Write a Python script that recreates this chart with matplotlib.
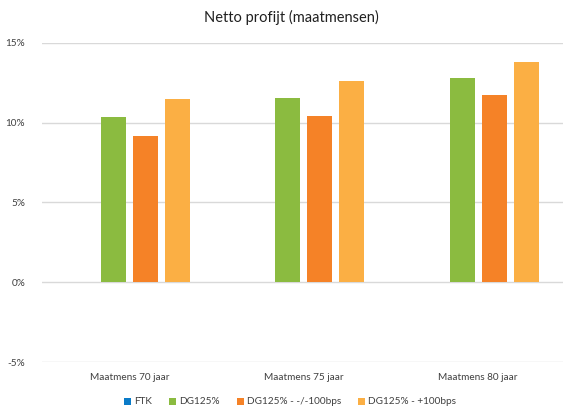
import numpy as np
import matplotlib.pyplot as plt

plt.rcParams['font.family'] = ['Lato', 'DejaVu Sans']

# Data (percent)
categories = ["Maatmens 70 jaar", "Maatmens 75 jaar", "Maatmens 80 jaar"]
series_names = ["FTK", "DG125%", "DG125% - -/-100bps", "DG125% - +100bps"]
ftk = [0.0, 0.0, 0.0]
dg125 = [10.35, 11.56, 12.77]
dg125_min100 = [9.16, 10.44, 11.75]
dg125_plus100 = [11.48, 12.63, 13.77]
y_ticks = [-5, 0, 5, 10, 15]

colors = ["#0A7BC8", "#8BBB40", "#F58227", "#FBAF44"]
values = [ftk, dg125, dg125_min100, dg125_plus100]

W, H = 563, 412
fig = plt.figure(figsize=(W / 100, H / 100), dpi=100)
ax = fig.add_axes([42 / W, 1 - 362.3 / H, 523.5 / W, (362.3 - 42.7) / H])

x = np.arange(len(categories))
step = 0.183
width = 0.143
for i, (name, vals, col) in enumerate(zip(series_names, values, colors)):
    ax.bar(x + (i - 1.5) * step, vals, width=width, color=col, label=name,
           linewidth=0, zorder=3)

ax.set_xlim(-0.5, 2.5)
ax.set_ylim(-5, 15)
ax.set_yticks(y_ticks)
ax.set_yticklabels([f"{t}%" for t in y_ticks], fontsize=7.2, color="#404040")
ax.set_xticks(x)
ax.set_xticklabels(categories, fontsize=7.2, color="#404040")
ax.tick_params(length=0, pad=12)
ax.tick_params(axis="x", pad=8)
ax.yaxis.grid(True, color="#D9D9D9", linewidth=1, zorder=0)
for s in ax.spines.values():
    s.set_visible(False)

fig.text(291 / W, 1 - 17 / H, "Netto profijt (maatmensen)", ha="center", va="center",
         fontsize=10.5, color="#202020")

fig.legend(loc="center", bbox_to_anchor=(290 / W, 1 - 402 / H), ncol=4, frameon=False,
           fontsize=7.2, handlelength=0.7, handleheight=0.7, handletextpad=0.3,
           columnspacing=1.7, labelcolor="#404040")

fig.savefig("out.png", dpi=100)
